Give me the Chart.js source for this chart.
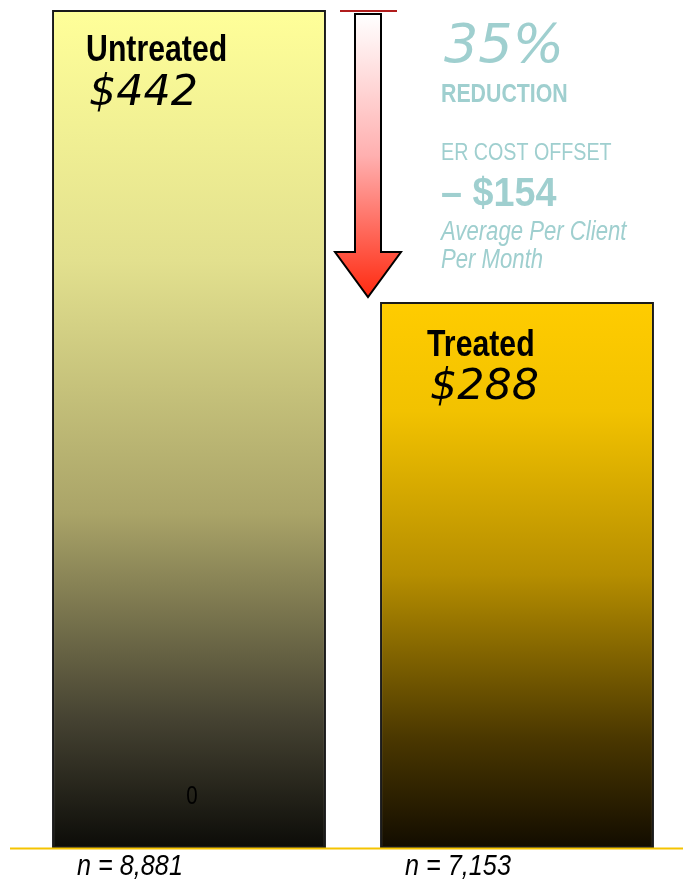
<!DOCTYPE html>
<html>
<head>
<meta charset="utf-8">
<script src="https://cdn.jsdelivr.net/npm/chart.js@4.4.1/dist/chart.umd.min.js"></script>
<style>
  html, body { margin: 0; padding: 0; background: #ffffff; }
  #wrap { width: 683px; height: 879px; position: relative; }
</style>
</head>
<body>
<div id="wrap"><canvas id="erChart"></canvas></div>
<script>
// ER cost per client per month, untreated vs treated

const categories = ['Untreated', 'Treated'];
const costValues = [442, 288];
const sampleSizes = [8881, 7153];
const reductionPct = 35;
const costOffset = 154;

const sans = '"Liberation Sans", Arial, sans-serif';
const wide = '"DejaVu Sans", "Liberation Sans", sans-serif';
const teal = '#9fcfcf';

// vertical gradient per bar, built against the chart area
function barGradient(ctx) {
    const chart = ctx.chart;
    const area = chart.chartArea;
    if (!area) return '#cccccc';
    if (ctx.dataIndex === 0) {
        const g = chart.ctx.createLinearGradient(0, area.top, 0, area.bottom);
        g.addColorStop(0, '#ffff99');
        g.addColorStop(0.3, '#e2e08e');
        g.addColorStop(0.6, '#aaa468');
        g.addColorStop(0.85, '#444131');
        g.addColorStop(1, '#0c0c08');
        return g;
    }
    const top = chart.scales.y.getPixelForValue(costValues[1]);
    const g2 = chart.ctx.createLinearGradient(0, top, 0, area.bottom);
    g2.addColorStop(0, '#ffcc00');
    g2.addColorStop(0.2, '#f2c200');
    g2.addColorStop(0.5, '#b68e00');
    g2.addColorStop(0.8, '#4a3700');
    g2.addColorStop(1, '#120c00');
    return g2;
}

// draw text squeezed horizontally, to stand in for a narrow face
function narrowText(ctx, text, x, y, font, squeeze, align) {
    ctx.save();
    ctx.font = font;
    ctx.textAlign = align || 'left';
    ctx.translate(x, y);
    ctx.scale(squeeze, 1);
    ctx.fillText(text, 0, 0);
    ctx.restore();
}

const annotations = {
    id: 'annotations',
    afterDatasetsDraw(chart) {
        const { ctx, scales: { x, y } } = chart;
        const base = y.getPixelForValue(0);
        const x0 = x.getPixelForValue(0);
        const x1 = x.getPixelForValue(1);
        const yHigh = y.getPixelForValue(costValues[0]);
        const yLow = y.getPixelForValue(costValues[1]);
        const meta = chart.getDatasetMeta(0);

        ctx.save();
        ctx.textBaseline = 'alphabetic';

        // baseline
        ctx.strokeStyle = '#f5c400';
        ctx.lineWidth = 2;
        ctx.beginPath();
        ctx.moveTo(10, base + 0.5);
        ctx.lineTo(chart.width, base + 0.5);
        ctx.stroke();

        // arrow from untreated level down to treated level
        const ax = (x0 + x1) / 2 + 15;
        const shaftHalf = 13, headHalf = 33;
        const aTop = yHigh + 4, aTip = yLow - 5, headTop = aTip - 45;
        const ag = ctx.createLinearGradient(0, aTop, 0, aTip);
        ag.addColorStop(0, '#ffffff');
        ag.addColorStop(0.5, '#ffb0b0');
        ag.addColorStop(1, '#ff2a10');
        ctx.beginPath();
        ctx.moveTo(ax - shaftHalf, aTop);
        ctx.lineTo(ax + shaftHalf, aTop);
        ctx.lineTo(ax + shaftHalf, headTop);
        ctx.lineTo(ax + headHalf, headTop);
        ctx.lineTo(ax, aTip);
        ctx.lineTo(ax - headHalf, headTop);
        ctx.lineTo(ax - shaftHalf, headTop);
        ctx.closePath();
        ctx.fillStyle = ag;
        ctx.fill();
        ctx.strokeStyle = '#000000';
        ctx.lineWidth = 2;
        ctx.stroke();
        ctx.strokeStyle = '#b01c1c';
        ctx.beginPath();
        ctx.moveTo(ax - 28, yHigh + 1);
        ctx.lineTo(ax + 29, yHigh + 1);
        ctx.stroke();

        // labels inside the bars
        ctx.fillStyle = '#000000';
        meta.data.forEach((bar, i) => {
            const left = bar.x - bar.width / 2;
            const top = bar.y;
            const dx = i === 0 ? 0 : 13;
            narrowText(ctx, categories[i], left + 34 + dx, top + 51 + (i ? 3 : 0), 'bold 36px ' + sans, 0.84);
            narrowText(ctx, '$' + costValues[i], left + 37 + dx, top + 95 + (i ? 2 : 0), 'italic 42px ' + wide, 1.02);
        });

        narrowText(ctx, '0', x0 + 3, base - 44, '25px ' + sans, 0.82, 'center');

        // sample sizes under the axis
        sampleSizes.forEach((n, i) => {
            narrowText(ctx, 'n = ' + n.toLocaleString('en-US'), x.getPixelForValue(i) - 59, base + 27,
                'italic 30px ' + sans, 0.84, 'center');
        });

        // reduction callout
        const tx = 441;
        ctx.fillStyle = teal;
        narrowText(ctx, reductionPct + '%', tx + 3, 62, 'italic 300 54px ' + wide, 1);
        narrowText(ctx, 'REDUCTION', tx, 102, 'bold 26px ' + sans, 0.82);
        narrowText(ctx, 'ER COST OFFSET', tx, 160, '24px ' + sans, 0.82);
        narrowText(ctx, '\u2013 $' + costOffset, tx, 206, 'bold 41px ' + sans, 0.92);
        narrowText(ctx, 'Average Per Client', tx, 240, 'italic 27px ' + sans, 0.82);
        narrowText(ctx, 'Per Month', tx, 268, 'italic 27px ' + sans, 0.82);

        ctx.restore();
    }
};

new Chart(document.getElementById('erChart'), {
    type: 'bar',
    data: {
        labels: categories,
        datasets: [{
            data: costValues,
            backgroundColor: barGradient,
            borderColor: '#1a1a1a',
            borderWidth: 2,
            borderSkipped: false,
            barPercentage: 0.835,
            categoryPercentage: 1
        }]
    },
    options: {
        responsive: true,
        maintainAspectRatio: false,
        animation: false,
        layout: { padding: { top: 10, bottom: 31, left: 25, right: 2 } },
        plugins: {
            legend: { display: false },
            tooltip: { enabled: false }
        },
        scales: {
            x: { display: false },
            y: { display: false, min: 0, max: costValues[0] }
        }
    },
    plugins: [annotations]
});
</script>
</body>
</html>
